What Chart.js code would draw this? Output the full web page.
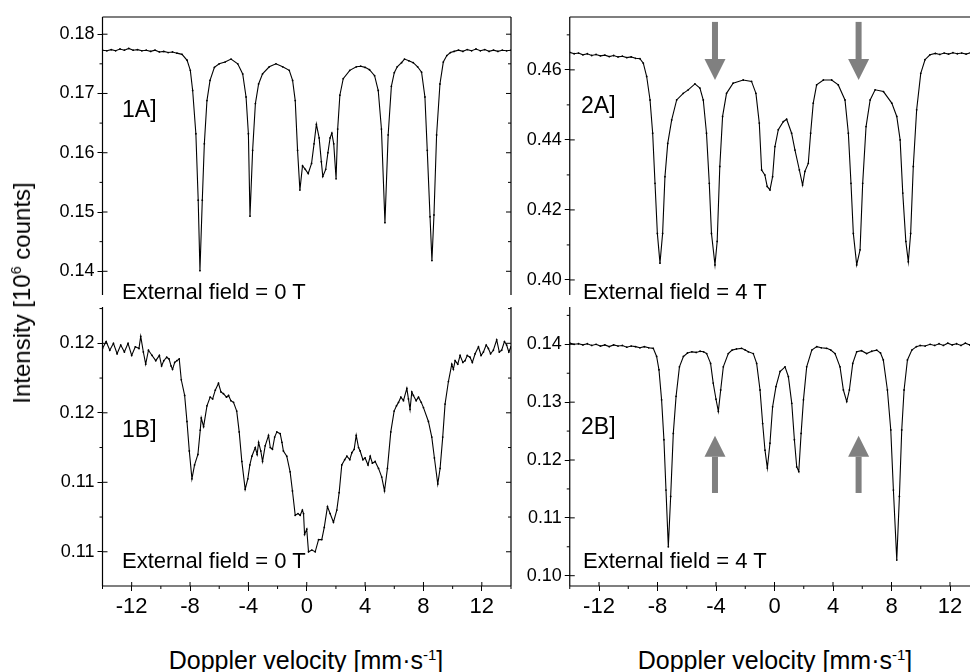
<!DOCTYPE html>
<html>
<head>
<meta charset="UTF-8">
<title>Mössbauer spectra, 0 T and 4 T</title>
<script src="https://cdn.jsdelivr.net/npm/chart.js@4"></script>
<style>
  html, body { margin: 0; padding: 0; background: #fff; overflow: hidden; }
  body { width: 970px; height: 672px; position: relative; font-family: "Liberation Sans", Arial, sans-serif; }
  canvas { position: absolute; }
  .txt { position: absolute; white-space: nowrap; color: #000; line-height: 1; }
  .tag { font-size: 23px; }
  .field { font-size: 22px; }
  .axis-title { font-size: 25px; transform: translate(-50%, -50%); }
  .y-title { font-size: 24px; transform: translate(-50%, -50%) rotate(-90deg); }
  sup { font-size: 0.6em; vertical-align: 0.6em; line-height: 0; }
</style>
</head>
<body>
<canvas id="c1A" width="530" height="300" style="left:0;top:0"></canvas>
<canvas id="c2A" width="530" height="300" style="left:470px;top:0"></canvas>
<canvas id="c1B" width="530" height="330" style="left:0;top:300px"></canvas>
<canvas id="c2B" width="530" height="330" style="left:470px;top:300px"></canvas>

<div class="txt tag" style="left:122px;top:98px">1A]</div>
<div class="txt tag" style="left:581px;top:94px">2A]</div>
<div class="txt tag" style="left:122px;top:418px">1B]</div>
<div class="txt tag" style="left:581px;top:415px">2B]</div>
<div class="txt field" style="left:122px;top:281px">External field = 0 T</div>
<div class="txt field" style="left:583px;top:281px">External field = 4 T</div>
<div class="txt field" style="left:122px;top:550px">External field = 0 T</div>
<div class="txt field" style="left:583px;top:550px">External field = 4 T</div>
<div class="txt y-title" style="left:22px;top:293px">Intensity [10<sup>6</sup> counts]</div>
<div class="txt axis-title" style="left:306px;top:660px">Doppler velocity [mm·s<sup>-1</sup>]</div>
<div class="txt axis-title" style="left:775px;top:660px">Doppler velocity [mm·s<sup>-1</sup>]</div>

<script>
// velocity ticks shared by all panels [mm/s]
const xTicks = [-12, -8, -4, 0, 4, 8, 12];

// 1A: zero field, sample 1
const vel1A = [-14,-13.7,-13.4,-13.1,-12.8,-12.5,-12.2,-11.9,-11.6,-11.3,
  -11,-10.7,-10.4,-10.1,-9.8,-9.5,-9.2,-8.9,-8.55,-8.2,
  -7.98,-7.82,-7.6,-7.44,-7.32,-7.16,-7.02,-6.84,-6.63,-6.33,
  -6,-5.6,-5.19,-4.73,-4.39,-4.16,-4,-3.89,-3.71,-3.52,
  -3.3,-3.03,-2.57,-2.11,-1.65,-1.2,-0.97,-0.79,-0.63,-0.47,
  -0.29,-0.1,0.1,0.33,0.5,0.66,0.85,1.0,1.1,1.3,
  1.45,1.6,1.72,1.85,2.01,2.12,2.27,2.5,2.95,3.4,
  3.7,4.0,4.3,4.65,4.9,5.12,5.36,5.58,5.8,6.0,
  6.2,6.5,6.7,7.0,7.3,7.6,7.87,8.1,8.26,8.45,
  8.58,8.72,8.9,9.13,9.36,9.6,9.85,10.1,10.4,10.7,
  11,11.3,11.6,11.9,12.2,12.5,12.8,13.1,13.4,13.7,
  14];
const int1A = [0.1773,0.1772,0.1774,0.1772,0.1775,0.1773,0.1776,0.1773,0.1774,0.1772,
  0.1773,0.1771,0.1773,0.1770,0.1771,0.1769,0.1770,0.1768,0.1766,0.1756,
  0.1739,0.1705,0.1632,0.1520,0.1401,0.1520,0.1615,0.1688,0.1722,0.1744,
  0.1750,0.1753,0.1758,0.1750,0.1733,0.1694,0.1632,0.1493,0.1604,0.1683,
  0.1716,0.1733,0.1745,0.1750,0.1745,0.1739,0.1722,0.1688,0.1604,0.1537,
  0.1578,0.1572,0.1565,0.1582,0.1615,0.1648,0.1625,0.1585,0.1560,0.1572,
  0.1600,0.1625,0.1633,0.1615,0.1556,0.1640,0.1697,0.1725,0.1739,0.1745,
  0.1746,0.1744,0.1740,0.1730,0.1705,0.1640,0.1482,0.1630,0.1712,0.1735,
  0.1745,0.1752,0.1758,0.1755,0.1752,0.1745,0.1736,0.1694,0.1604,0.1492,
  0.1418,0.1495,0.1630,0.1716,0.1753,0.1764,0.1769,0.1771,0.1773,0.1771,
  0.1774,0.1772,0.1775,0.1772,0.1774,0.1771,0.1773,0.1771,0.1773,0.1772,
  0.1773];

// 2A: 4 T, sample 1
const vel2A = [-14,-13.7,-13.4,-13.1,-12.8,-12.5,-12.2,-11.9,-11.6,-11.3,
  -11,-10.7,-10.4,-10.1,-9.8,-9.5,-9.2,-8.97,-8.74,-8.51,
  -8.33,-8.17,-8.01,-7.83,-7.65,-7.49,-7.3,-7.03,-6.69,-6.24,
  -5.9,-5.44,-5.1,-4.87,-4.65,-4.46,-4.31,-4.07,-3.92,-3.74,
  -3.55,-3.28,-2.83,-2.14,-1.57,-1.27,-1.04,-0.88,-0.66,-0.5,
  -0.31,-0.13,0.03,0.26,0.6,0.83,1.17,1.4,1.7,1.92,
  2.08,2.31,2.47,2.65,2.88,3.34,3.91,4.36,4.82,5.05,
  5.23,5.39,5.62,5.85,6.03,6.26,6.54,6.88,7.45,8.02,
  8.36,8.59,8.77,8.98,9.15,9.31,9.49,9.72,10,10.29,
  10.63,11,11.3,11.6,11.9,12.2,12.5,12.8,13.1,13.4,
  13.7,14];
const int2A = [0.4650,0.4646,0.4648,0.4643,0.4646,0.4641,0.4644,0.4640,0.4642,0.4638,
  0.4641,0.4637,0.4639,0.4635,0.4637,0.4633,0.4632,0.4619,0.4581,0.4514,
  0.4419,0.4276,0.4133,0.4048,0.4133,0.4295,0.4390,0.4457,0.4514,0.4533,
  0.4543,0.4560,0.4548,0.4514,0.4419,0.4276,0.4133,0.4043,0.4110,0.4324,
  0.4467,0.4533,0.4562,0.4571,0.4567,0.4533,0.4448,0.4314,0.4300,0.4267,
  0.4257,0.4295,0.4381,0.4429,0.4452,0.4459,0.4419,0.4371,0.4314,0.4271,
  0.4310,0.4333,0.4419,0.4505,0.4557,0.4571,0.4571,0.4557,0.4514,0.4419,
  0.4276,0.4133,0.4043,0.4086,0.4276,0.4438,0.4514,0.4543,0.4538,0.4505,
  0.4467,0.4400,0.4248,0.4110,0.4052,0.4133,0.4324,0.4486,0.4590,0.4629,
  0.4643,0.4647,0.4644,0.4648,0.4645,0.4649,0.4646,0.4648,0.4645,0.4649,
  0.4647,0.4648];

// 1B: zero field, sample 2
const vel1B = [-14,-13.75,-13.5,-13.25,-13,-12.75,-12.5,-12.25,-12,-11.75,
  -11.5,-11.38,-11.2,-11.04,-10.85,-10.6,-10.35,-10.1,-9.95,-9.8,
  -9.6,-9.44,-9.3,-9.2,-9.05,-8.9,-8.74,-8.6,-8.37,-8.21,
  -8.05,-7.87,-7.69,-7.46,-7.3,-7.23,-7.07,-6.84,-6.62,-6.45,
  -6.27,-6.05,-5.88,-5.71,-5.5,-5.36,-5.2,-5.02,-4.8,-4.63,
  -4.45,-4.22,-4.04,-3.9,-3.76,-3.53,-3.4,-3.3,-3.15,-3.03,
  -2.85,-2.62,-2.5,-2.35,-2.2,-2.05,-1.82,-1.7,-1.6,-1.37,
  -1.14,-0.98,-0.79,-0.6,-0.45,-0.3,-0.22,-0.15,0,0.12,
  0.35,0.58,0.81,1.03,1.2,1.42,1.6,1.83,2.06,2.22,
  2.4,2.6,2.75,2.95,3.09,3.25,3.39,3.55,3.66,3.85,
  4.0,4.2,4.35,4.5,4.69,4.92,5.14,5.33,5.53,5.76,
  5.99,6.15,6.29,6.45,6.63,6.86,6.97,7.08,7.2,7.31,
  7.5,7.66,7.85,8.0,8.34,8.57,8.75,8.98,9.14,9.32,
  9.48,9.71,9.94,10.05,10.17,10.35,10.51,10.7,10.85,11.0,
  11.19,11.35,11.54,11.77,11.95,12.11,12.3,12.45,12.6,12.79,
  13.02,13.2,13.36,13.55,13.7,13.85,14];
const int1B = [0.1217,0.1221,0.1216,0.1220,0.1214,0.1219,0.1215,0.1220,0.1213,0.1218,
  0.1217,0.1224,0.1215,0.1208,0.1216,0.1213,0.1210,0.1213,0.1207,0.1210,
  0.1212,0.1211,0.1207,0.1205,0.1209,0.1210,0.1211,0.1199,0.1190,0.1175,
  0.1158,0.1142,0.1150,0.1156,0.1170,0.1177,0.1172,0.1184,0.1189,0.1188,
  0.1193,0.1197,0.1192,0.1191,0.1189,0.1190,0.1187,0.1186,0.1181,0.1169,
  0.1152,0.1136,0.1142,0.1150,0.1155,0.1160,0.1156,0.1163,0.1158,0.1152,
  0.1161,0.1167,0.1160,0.1159,0.1166,0.1169,0.1168,0.1163,0.1158,0.1155,
  0.1146,0.1135,0.1121,0.1122,0.1121,0.1124,0.1122,0.1110,0.1113,0.1100,
  0.1101,0.1100,0.1107,0.1107,0.1114,0.1126,0.1122,0.1117,0.1124,0.1134,
  0.1150,0.1153,0.1155,0.1153,0.1157,0.1159,0.1167,0.1160,0.1158,0.1153,
  0.1154,0.1150,0.1155,0.1151,0.1152,0.1148,0.1143,0.1135,0.1148,0.1169,
  0.1181,0.1184,0.1186,0.1189,0.1187,0.1194,0.1188,0.1182,0.1192,0.1190,
  0.1187,0.1189,0.1186,0.1183,0.1175,0.1166,0.1154,0.1139,0.1148,0.1166,
  0.1185,0.1198,0.1208,0.1205,0.1210,0.1208,0.1213,0.1209,0.1210,0.1213,
  0.1212,0.1209,0.1214,0.1218,0.1213,0.1215,0.1219,0.1217,0.1214,0.1216,
  0.1222,0.1215,0.1216,0.1221,0.1219,0.1215,0.1218];

// 2B: 4 T, sample 2
const vel2B = [-14,-13.7,-13.4,-13.1,-12.8,-12.5,-12.2,-11.9,-11.6,-11.3,
  -11,-10.7,-10.4,-10.1,-9.8,-9.5,-9.2,-8.9,-8.6,-8.29,
  -8.06,-7.9,-7.72,-7.56,-7.42,-7.26,-7.1,-6.92,-6.73,-6.5,
  -6.23,-5.95,-5.65,-5.35,-5.09,-4.85,-4.64,-4.37,-4.19,-4.0,
  -3.84,-3.68,-3.5,-3.16,-2.9,-2.6,-2.25,-2.0,-1.79,-1.45,
  -1.22,-0.99,-0.81,-0.65,-0.49,-0.31,-0.13,0.1,0.38,0.72,
  0.95,1.18,1.36,1.52,1.66,1.82,1.98,2.2,2.55,2.89,
  3.2,3.57,3.85,4.14,4.48,4.71,4.94,5.12,5.35,5.62,
  5.95,6.3,6.65,6.99,7.25,7.44,7.72,7.95,8.13,8.36,
  8.54,8.7,8.86,9.09,9.39,9.7,9.96,10.3,10.64,10.95,
  11.25,11.55,11.85,12.15,12.45,12.75,13.05,13.35,13.65,14];
const int2B = [0.1402,0.1400,0.1401,0.1399,0.1401,0.1398,0.1400,0.1397,0.1399,0.1396,
  0.1399,0.1397,0.1398,0.1395,0.1397,0.1396,0.1394,0.1396,0.1394,0.1393,
  0.1379,0.1356,0.1304,0.1235,0.1148,0.1050,0.1137,0.1246,0.1310,0.1361,
  0.1379,0.1385,0.1387,0.1386,0.1388,0.1387,0.1384,0.1367,0.1333,0.1305,
  0.1284,0.1321,0.1361,0.1384,0.1390,0.1392,0.1393,0.1390,0.1387,0.1384,
  0.1367,0.1321,0.1263,0.1217,0.1186,0.1229,0.1292,0.1327,0.1353,0.1361,
  0.1344,0.1298,0.1235,0.1188,0.1180,0.1246,0.1304,0.1361,0.1390,0.1396,
  0.1394,0.1393,0.1390,0.1384,0.1361,0.1321,0.1301,0.1321,0.1367,0.1387,
  0.1389,0.1384,0.1388,0.1390,0.1385,0.1373,0.1321,0.1252,0.1148,0.1027,
  0.1137,0.1252,0.1321,0.1373,0.1390,0.1396,0.1398,0.1397,0.1400,0.1398,
  0.1401,0.1398,0.1402,0.1399,0.1401,0.1398,0.1402,0.1399,0.1401,0.1400];

// intensity ticks per panel
const yTicks1A = [0.14, 0.15, 0.16, 0.17, 0.18];
const yTicks2A = [0.40, 0.42, 0.44, 0.46];
const yTicks1B = [0.110, 0.114, 0.118, 0.122];
const yTicks2B = [0.10, 0.11, 0.12, 0.13, 0.14];

// grey arrows marking the 2nd and 5th lines at 4 T
const arrowVel = [-4.07, 5.75];
const arrow2A = { tail: 0.4737, tip: 0.4571 };
const arrow2B = { tail: 0.1143, tip: 0.1242 };

const FONT = "'Liberation Sans', Arial, sans-serif";

// box frame plus the small inner/minor tick marks
const framePlugin = {
  id: 'frame',
  afterDatasetsDraw(chart, args, opts) {
    const { ctx, chartArea: a, scales } = chart;
    ctx.save();
    ctx.strokeStyle = '#000';
    ctx.lineWidth = 1.2;
    ctx.beginPath();
    ctx.moveTo(a.left, a.top); ctx.lineTo(a.left, a.bottom);
    ctx.moveTo(a.right, a.top); ctx.lineTo(a.right, a.bottom);
    if (opts.top) { ctx.moveTo(a.left, a.top); ctx.lineTo(a.right, a.top); }
    if (opts.bottom) { ctx.moveTo(a.left, a.bottom); ctx.lineTo(a.right, a.bottom); }
    ctx.stroke();

    ctx.lineWidth = 1;
    ctx.beginPath();
    const y = scales.y;
    const yv = y.ticks.map(t => t.value);
    const ys = yv[1] - yv[0];
    yv.forEach(v => {
      const p = y.getPixelForValue(v);
      ctx.moveTo(a.left, p); ctx.lineTo(a.left + 5, p);
      ctx.moveTo(a.right, p); ctx.lineTo(a.right - 5, p);
    });
    for (let v = yv[0] - ys / 2; v <= y.max; v += ys) {
      if (v < y.min) continue;
      const p = y.getPixelForValue(v);
      ctx.moveTo(a.left, p); ctx.lineTo(a.left - 3, p);
      ctx.moveTo(a.right, p); ctx.lineTo(a.right - 3, p);
    }
    if (opts.bottom) {
      const x = scales.x;
      const xv = x.ticks.map(t => t.value);
      const xs = xv[1] - xv[0];
      xv.forEach(v => {
        const p = x.getPixelForValue(v);
        ctx.moveTo(p, a.bottom); ctx.lineTo(p, a.bottom - 4);
      });
      for (let v = xv[0] - xs / 2; v <= x.max; v += xs) {
        if (v < x.min) continue;
        const p = x.getPixelForValue(v);
        ctx.moveTo(p, a.bottom); ctx.lineTo(p, a.bottom + 3);
      }
    }
    ctx.stroke();
    ctx.restore();
  }
};

const arrowPlugin = {
  id: 'arrows',
  afterDatasetsDraw(chart, args, opts) {
    if (!opts.vel) return;
    const { ctx, scales: { x, y } } = chart;
    ctx.save();
    ctx.fillStyle = '#808080';
    opts.vel.forEach(v => {
      const px = x.getPixelForValue(v);
      const tip = y.getPixelForValue(opts.tip);
      const tail = y.getPixelForValue(opts.tail);
      const dir = Math.sign(tip - tail);
      const base = tip - dir * 21;
      ctx.fillRect(px - 3, Math.min(tail, base), 6, Math.abs(base - tail));
      ctx.beginPath();
      ctx.moveTo(px, tip);
      ctx.lineTo(px - 10.5, base);
      ctx.lineTo(px + 10.5, base);
      ctx.closePath();
      ctx.fill();
    });
    ctx.restore();
  }
};

Chart.register(framePlugin, arrowPlugin);

function panel(id, vel, inten, yMin, yMax, yTicks, cfg) {
  const pts = vel.map((v, i) => ({ x: v, y: inten[i] }));
  return new Chart(document.getElementById(id), {
    type: 'line',
    data: {
      datasets: [{
        data: pts,
        borderColor: '#000',
        borderWidth: 1.1,
        pointRadius: 0.9,
        pointBackgroundColor: '#000',
        pointBorderWidth: 0,
        tension: 0
      }]
    },
    options: {
      responsive: false,
      animation: false,
      layout: { padding: { top: cfg.top ? 17 : 7, bottom: cfg.top ? 5 : 0, left: 0, right: cfg.padRight } },
      plugins: {
        legend: { display: false },
        tooltip: { enabled: false },
        frame: { top: cfg.top, bottom: !cfg.top },
        arrows: cfg.arrows || {}
      },
      scales: {
        x: {
          type: 'linear',
          min: -14,
          max: 14,
          display: !cfg.top,
          afterBuildTicks: s => { s.ticks = xTicks.map(v => ({ value: v })); },
          afterFit: s => { s.height = cfg.top ? 0 : 44; },
          grid: { drawOnChartArea: false, drawTicks: true, tickLength: 5, color: '#000' },
          border: { display: false },
          ticks: { color: '#000', font: { family: FONT, size: 22 }, padding: 3, maxRotation: 0, autoSkip: false }
        },
        y: {
          min: yMin,
          max: yMax,
          afterBuildTicks: s => { s.ticks = yTicks.map(v => ({ value: v })); },
          // fixed axis width; label overhang must not shrink the plot box
          afterFit: s => { s.width = cfg.axisW; s.paddingTop = 0; s.paddingBottom = 0; },
          grid: { drawOnChartArea: false, drawTicks: true, tickLength: 5, color: '#000' },
          border: { display: false },
          ticks: { color: '#000', font: { family: FONT, size: 18 }, padding: 3, callback: v => v.toFixed(2) }
        }
      }
    }
  });
}

panel('c1A', vel1A, int1A, 0.1360, 0.1829, yTicks1A, { top: true, axisW: 102.5, padRight: 19 });
panel('c2A', vel2A, int2A, 0.3957, 0.4751, yTicks2A, { top: true, axisW: 99.75, padRight: 20.75,
  arrows: { vel: arrowVel, tip: arrow2A.tip, tail: arrow2A.tail } });
panel('c1B', vel1B, int1B, 0.10803, 0.12409, yTicks1B, { top: false, axisW: 102.5, padRight: 19 });
panel('c2B', vel2B, int2B, 0.09822, 0.14645, yTicks2B, { top: false, axisW: 99.75, padRight: 20.75,
  arrows: { vel: arrowVel, tip: arrow2B.tip, tail: arrow2B.tail } });
</script>
</body>
</html>
